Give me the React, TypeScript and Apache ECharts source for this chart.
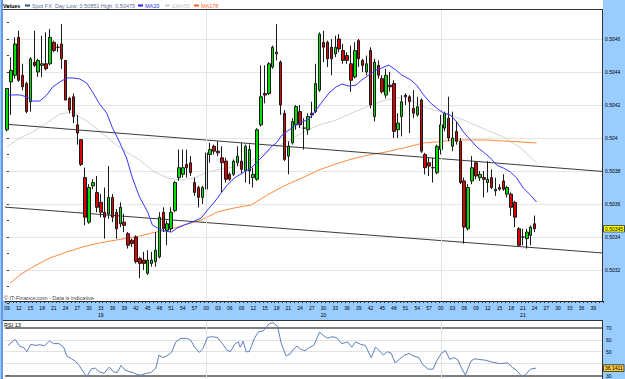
import { useEffect, useRef } from 'react';
import * as echarts from 'echarts';

// ---- tick labels / categories ----
const dayNames = ['19', '20', '21'];
const dayMinuteRanges = [[9, 59], [0, 59], [0, 41]];
const dayLabelMinute = [33, 30, 21];

// ---- candles: [open, close, low, high] ----
const candles = [
[0.50405,0.50430,0.50404,0.50430],[0.50434,0.50441,0.50414,0.50449],[0.50438,0.50457,0.50436,0.50461],[0.50461,0.50435,0.50434,0.50465],
[0.50438,0.50431,0.50429,0.50445],[0.50433,0.50416,0.50415,0.50434],[0.50422,0.50448,0.50416,0.50449],[0.50446,0.50444,0.50443,0.50465],
[0.50440,0.50447,0.50437,0.50448],[0.50444,0.50445,0.50437,0.50462],[0.50445,0.50442,0.50441,0.50464],[0.50445,0.50461,0.50444,0.50466],
[0.50458,0.50453,0.50452,0.50459],[0.50455,0.50455,0.50452,0.50457],[0.50457,0.50448,0.50442,0.50469],[0.50447,0.50423,0.50423,0.50447],
[0.50424,0.50417,0.50415,0.50425],[0.50425,0.50413,0.50409,0.50427],[0.50408,0.50403,0.50396,0.50414],[0.50399,0.50384,0.50383,0.50399],
[0.50376,0.50352,0.50347,0.50382],[0.50349,0.50370,0.50348,0.50372],[0.50371,0.50373,0.50369,0.50375],[0.50367,0.50358,0.50355,0.50377],
[0.50361,0.50355,0.50352,0.50366],[0.50355,0.50352,0.50339,0.50370],[0.50354,0.50364,0.50351,0.50383],[0.50364,0.50352,0.50349,0.50366],
[0.50355,0.50345,0.50339,0.50357],[0.50348,0.50358,0.50346,0.50361],[0.50349,0.50347,0.50343,0.50354],[0.50342,0.50335,0.50333,0.50343],
[0.50338,0.50336,0.50334,0.50339],[0.50340,0.50325,0.50324,0.50341],[0.50327,0.50324,0.50315,0.50328],[0.50326,0.50324,0.50320,0.50331],
[0.50318,0.50326,0.50317,0.50332],[0.50324,0.50326,0.50322,0.50331],[0.50325,0.50332,0.50322,0.50343],[0.50328,0.50352,0.50327,0.50355],
[0.50355,0.50345,0.50343,0.50358],[0.50344,0.50348,0.50335,0.50350],[0.50345,0.50355,0.50343,0.50358],[0.50356,0.50373,0.50355,0.50374],
[0.50376,0.50382,0.50374,0.50393],[0.50378,0.50382,0.50376,0.50393],[0.50384,0.50382,0.50376,0.50393],[0.50385,0.50379,0.50377,0.50389],
[0.50373,0.50367,0.50365,0.50376],[0.50370,0.50364,0.50358,0.50371],[0.50364,0.50370,0.50360,0.50371],[0.50369,0.50391,0.50368,0.50391],
[0.50390,0.50393,0.50385,0.50397],[0.50395,0.50392,0.50390,0.50396],[0.50392,0.50391,0.50389,0.50398],[0.50388,0.50385,0.50367,0.50395],
[0.50386,0.50375,0.50373,0.50388],[0.50378,0.50375,0.50374,0.50379],[0.50378,0.50386,0.50377,0.50387],[0.50385,0.50389,0.50383,0.50395],
[0.50386,0.50381,0.50378,0.50397],[0.50380,0.50395,0.50373,0.50396],[0.50380,0.50393,0.50372,0.50396],[0.50376,0.50378,0.50370,0.50382],
[0.50375,0.50405,0.50374,0.50406],[0.50408,0.50425,0.50407,0.50444],[0.50427,0.50426,0.50421,0.50444],[0.50427,0.50445,0.50426,0.50446],
[0.50443,0.50455,0.50442,0.50456],[0.50452,0.50451,0.50447,0.50469],[0.50446,0.50420,0.50414,0.50447],[0.50415,0.50387,0.50386,0.50417],
[0.50389,0.50395,0.50378,0.50398],[0.50397,0.50410,0.50396,0.50412],[0.50408,0.50419,0.50405,0.50420],[0.50416,0.50408,0.50406,0.50420],
[0.50406,0.50406,0.50393,0.50412],[0.50405,0.50413,0.50402,0.50415],[0.50415,0.50414,0.50412,0.50422],[0.50416,0.50433,0.50415,0.50445],
[0.50429,0.50463,0.50428,0.50464],[0.50458,0.50455,0.50446,0.50465],[0.50458,0.50448,0.50443,0.50459],[0.50455,0.50448,0.50438,0.50460],
[0.50451,0.50455,0.50449,0.50462],[0.50460,0.50454,0.50452,0.50463],[0.50453,0.50447,0.50445,0.50457],[0.50450,0.50447,0.50445,0.50452],
[0.50445,0.50435,0.50428,0.50456],[0.50437,0.50453,0.50436,0.50458],[0.50459,0.50448,0.50443,0.50460],[0.50447,0.50444,0.50440,0.50448],
[0.50440,0.50445,0.50438,0.50450],[0.50453,0.50420,0.50418,0.50455],[0.50413,0.50446,0.50410,0.50448],[0.50444,0.50438,0.50436,0.50447],
[0.50436,0.50428,0.50427,0.50438],[0.50426,0.50438,0.50424,0.50442],[0.50432,0.50431,0.50428,0.50440],[0.50433,0.50404,0.50400,0.50435],
[0.50405,0.50409,0.50400,0.50415],[0.50413,0.50422,0.50401,0.50426],[0.50426,0.50425,0.50420,0.50427],[0.50425,0.50422,0.50403,0.50426],
[0.50418,0.50415,0.50412,0.50429],[0.50414,0.50419,0.50413,0.50425],[0.50423,0.50392,0.50391,0.50424],[0.50390,0.50382,0.50378,0.50391],
[0.50385,0.50383,0.50377,0.50388],[0.50382,0.50382,0.50373,0.50388],[0.50379,0.50395,0.50378,0.50396],[0.50393,0.50408,0.50390,0.50414],
[0.50406,0.50415,0.50404,0.50416],[0.50412,0.50400,0.50398,0.50425],[0.50395,0.50400,0.50392,0.50416],[0.50404,0.50398,0.50396,0.50410],
[0.50398,0.50373,0.50372,0.50400],[0.50374,0.50346,0.50336,0.50376],[0.50345,0.50370,0.50344,0.50372],[0.50374,0.50382,0.50372,0.50389],
[0.50385,0.50377,0.50375,0.50386],[0.50376,0.50378,0.50374,0.50380],[0.50376,0.50375,0.50364,0.50380],[0.50373,0.50375,0.50367,0.50386],
[0.50376,0.50370,0.50369,0.50381],[0.50368,0.50369,0.50365,0.50376],[0.50370,0.50369,0.50368,0.50372],[0.50374,0.50369,0.50368,0.50378],
[0.50366,0.50370,0.50364,0.50371],[0.50366,0.50358,0.50353,0.50367],[0.50361,0.50352,0.50346,0.50362],[0.50345,0.50335,0.50334,0.50346],
[0.50340,0.50340,0.50335,0.50345],[0.50339,0.50343,0.50333,0.50345],[0.50341,0.50346,0.50335,0.50347],[0.50348,0.50345,0.50343,0.50353],
];

// ---- indicator lines: [bar index, value] ----
const ma20 = [
[0.3,0.504261],[3.3,0.504261],[5.1,0.504249],[6.6,0.504224],[8.4,0.504224],[10.2,0.504261],[11.7,0.504309],[13.5,0.504339],
[15.3,0.504364],[16.8,0.504364],[18.6,0.504358],[20.4,0.504333],[21.9,0.504279],[23.7,0.504206],[25.5,0.504152],[27.0,0.504061],
[28.8,0.503976],[30.6,0.503879],[32.1,0.503758],[33.9,0.503643],[36.0,0.503552],[37.2,0.503473],[38.5,0.503455],[40.3,0.503436],
[42.1,0.503430],[43.6,0.503455],[45.4,0.503473],[47.4,0.503491],[49.7,0.503515],[51.3,0.503564],[53.1,0.503612],[54.8,0.503667],
[56.4,0.503715],[58.2,0.503758],[60.7,0.503794],[62.5,0.503818],[64.0,0.503855],[65.8,0.503897],[67.6,0.503946],[68.9,0.503970],
[70.4,0.504018],[72.2,0.504049],[74.0,0.504079],[75.5,0.504097],[77.3,0.504115],[79.1,0.504170],[80.6,0.504218],[82.4,0.504273],
[84.2,0.504309],[85.7,0.504327],[87.5,0.504315],[89.3,0.504321],[90.8,0.504352],[92.6,0.504382],[94.4,0.504412],[95.9,0.504424],
[97.7,0.504442],[99.5,0.504412],[101.0,0.504382],[103.3,0.504352],[104.8,0.504321],[106.6,0.504261],[108.4,0.504212],[109.9,0.504182],
[111.7,0.504152],[113.5,0.504139],[115.1,0.504097],[116.8,0.504036],[118.6,0.503988],[120.2,0.503946],[121.9,0.503915],[123.7,0.503879],
[125.3,0.503836],[127.0,0.503818],[128.8,0.503794],[130.4,0.503758],[132.1,0.503697],[133.9,0.503655],[135.5,0.503612],
];
const ema55 = [
[0,0.503946],[3.3,0.504000],[6.6,0.504036],[10.2,0.504091],[13.5,0.504145],[15.3,0.504152],[16.8,0.504152],[20.4,0.504103],
[23.7,0.504042],[27.0,0.503976],[30.6,0.503915],[33.9,0.503867],[37.8,0.503794],[41.1,0.503758],[44.6,0.503746],[48.0,0.503758],
[51.3,0.503794],[54.8,0.503812],[58.2,0.503824],[61.5,0.503849],[65.1,0.503897],[68.4,0.503939],[72.2,0.503988],[76.0,0.504036],
[79.8,0.504079],[84.2,0.504109],[88.3,0.504152],[92.6,0.504194],[96.9,0.504230],[101.5,0.504249],[106.6,0.504188],[111.7,0.504152],
[116.8,0.504109],[122.7,0.504049],[127.0,0.504006],[131.4,0.503940],[135.5,0.503849],
];
const ma178 = [
[0.8,0.503121],[3.3,0.503170],[6.6,0.503218],[11.0,0.503273],[15.3,0.503309],[19.4,0.503340],[23.7,0.503364],[28.1,0.503382],
[33.9,0.503406],[37.0,0.503424],[41.1,0.503443],[45.4,0.503473],[49.7,0.503503],[53.8,0.503552],[58.2,0.503576],[62.5,0.503594],
[66.6,0.503655],[71.4,0.503715],[75.5,0.503758],[79.8,0.503806],[84.2,0.503843],[88.3,0.503873],[92.6,0.503897],[96.9,0.503915],
[101.5,0.503940],[106.6,0.503970],[110.0,0.503976],[114.3,0.503988],[118.6,0.503988],[122.7,0.503988],[127.0,0.503982],[131.4,0.503976],
[135.5,0.503970],
];
const upperTrend = [[-0.5, 0.504084], [152.5, 0.503797]];
const lowerTrend = [[-0.5, 0.503581], [152.5, 0.503303]];

const rsi13 = [
[0.25,55.3],[2.1,60.3],[3.3,54.4],[4.3,53.5],[5.1,50.0],[6.1,56.2],[7.4,55.3],[8.4,55.9],[9.6,55.0],[10.9,59.1],[11.9,56.8],
[13.3,56.8],[14.5,53.8],[15.3,46.5],[16.5,44.1],[17.5,42.1],[18.5,38.2],[20.4,28.8],[21.6,35.6],[22.6,36.2],[23.6,33.2],
[24.8,31.8],[26.2,37.1],[27.2,33.2],[28.2,32.4],[29.2,38.5],[30.2,34.7],[31.3,33.2],[32.3,32.4],[33.3,30.9],[34.3,30.3],
[35.6,31.8],[36.8,32.4],[38.1,36.2],[38.9,47.1],[39.9,45.0],[40.9,46.5],[42.1,49.4],[43.2,58.2],[44.5,61.2],[46.0,61.2],
[47.0,59.7],[48.0,53.8],[49.2,49.4],[50.1,52.4],[51.3,62.1],[52.6,62.6],[53.9,61.8],[55.1,56.8],[56.4,50.9],[57.2,50.3],
[58.4,56.8],[59.2,58.2],[59.7,53.8],[60.4,58.8],[61.2,50.0],[62.0,50.0],[63.3,61.2],[64.3,66.5],[65.6,67.6],[67.1,73.5],
[68.1,74.4],[69.2,71.5],[70.2,56.8],[71.4,46.5],[72.4,47.9],[73.4,52.4],[74.2,54.7],[75.3,51.8],[76.3,50.9],[77.5,53.8],
[78.5,55.3],[80.0,66.5],[81.0,63.5],[82.1,61.2],[83.1,62.6],[84.4,61.8],[85.6,56.8],[87.2,58.2],[88.2,53.8],[89.2,58.2],
[90.5,56.2],[91.7,55.3],[93.2,45.0],[94.3,53.8],[95.3,50.9],[96.3,47.1],[97.3,50.0],[98.3,48.8],[99.3,40.6],[100.4,43.5],
[101.7,47.1],[102.9,48.5],[103.9,46.5],[105.4,45.0],[106.4,39.1],[107.8,35.3],[109.0,35.3],[110.0,42.6],[111.2,48.8],
[112.2,50.9],[113.3,43.5],[114.3,45.0],[115.3,43.5],[116.3,36.2],[117.3,30.3],[118.7,42.1],[119.7,44.1],[120.7,43.5],
[122.4,42.9],[124.2,41.2],[126.1,40.0],[128.1,40.6],[129.3,36.8],[130.3,34.7],[131.6,29.7],[132.6,30.3],[133.9,35.3],[135.4,36.2],
];
const lastPrice = 0.50345;
const lastRsi = 36.1411;
const dayLow = '0.50851';
const dayHigh = '0.50475';

const FONT = 'Liberation Sans';

function buildOption() {
  const categories: string[] = [];
  const catDay: number[] = [];
  dayMinuteRanges.forEach(([a, b], d) => {
    for (let m = a; m <= b; m++) {
      categories.push(String(m).padStart(2, '0'));
      catDay.push(d);
    }
  });
  const nCat = categories.length;
  const firstDay2 = categories.findIndex((_, i) => catDay[i] === 1);
  const firstDay3 = categories.findIndex((_, i) => catDay[i] === 2);

  const bgRect = (x: number, y: number, w: number, h: number, fill: string) => ({
    type: 'rect', z: -100, silent: true, shape: { x, y, width: w, height: h }, style: { fill },
  });
  const gLine = (x1: number, y1: number, x2: number, y2: number, stroke: string, z = -50) => ({
    type: 'line', z, silent: true, shape: { x1, y1, x2, y2 }, style: { stroke, lineWidth: 1 },
  });
  const gText = (x: number, y: number, text: string, fill: string, bold = false) => ({
    type: 'text', z: 100, silent: true, x, y,
    style: { text, fill, fontSize: 5.5, fontFamily: FONT, fontWeight: bold ? 'bold' : 'normal', verticalAlign: 'middle' },
  });
  const legendIcon = (x: number, fill: string) => ({
    type: 'rect', z: 100, silent: true, shape: { x, y: 4.5, width: 5, height: 2 }, style: { fill },
  });

  const sepStyle = { color: '#e2e2e2', width: 1, type: 'solid' };
  const hiddenLine = { color: 'rgba(0,0,0,0)', width: 0 };
  const tagLabel = (text: string, bg: string) => ({
    show: true, position: 'end', distance: 1, formatter: () => text,
    backgroundColor: bg, borderColor: '#000', borderWidth: 0.6, padding: [1, 1, 0, 1],
    fontSize: 5, color: '#000', fontFamily: FONT,
  });

  return {
    animation: false,
    textStyle: { fontFamily: FONT },
    graphic: {
      elements: [
        bgRect(0, 0, 625, 400, '#99ccff'),
        bgRect(3, 0, 600, 9, '#ffffff'),
        bgRect(3, 9, 600, 292, '#ffffff'),
        bgRect(3, 320, 600, 80, '#ffffff'),
        gLine(2, 0, 2, 400, '#3366cc'),
        gLine(3, 9.5, 603, 9.5, '#333333', 50),
        gLine(602.5, 9, 602.5, 301, '#333333', 50),
        gLine(3, 320.5, 603, 320.5, '#333333', 50),
        gLine(602.5, 320, 602.5, 400, '#333333', 50),
        gText(3, 5.5, 'Values', '#000000', true),
        legendIcon(25, '#2d4f8f'),
        gText(32, 5.5, 'Spot FX', '#5c6f94'),
        gText(55, 5.5, 'Day Low: ' + dayLow + ' High: ' + dayHigh, '#5c6f94'),
        legendIcon(138, '#1f1fff'),
        gText(145, 5.5, 'MA20', '#1f1fff'),
        legendIcon(165, '#cfcfcf'),
        gText(172, 5.5, 'EMA55', '#c8c8c8'),
        legendIcon(194, '#ff5a1f'),
        gText(201, 5.5, 'MA178', '#ff6a2a'),
        gText(4, 297.5, '© IT-Finance.com - Data is indicative', '#444444'),
        gText(4, 324.5, 'RSI 13', '#000000'),
      ],
    },
    grid: [
      { left: 5, right: 22, top: 6, height: 297 },
      { left: 5, right: 22, top: 316, height: 71.4 },
    ],
    xAxis: [
      {
        type: 'category', gridIndex: 0, data: categories, boundaryGap: true, offset: -2,
        axisLine: { show: true, lineStyle: { color: '#222', width: 1 } },
        axisTick: { show: true, interval: 0, length: 2, lineStyle: { color: '#333' } },
        axisLabel: {
          fontSize: 5, color: '#000', margin: 3, lineHeight: 7, fontFamily: FONT,
          interval: (_i: number, v: string) => Number(v) % 3 === 0,
          formatter: (v: string, i: number) => {
            const d = catDay[i];
            return Number(v) === dayLabelMinute[d] ? v + '\n' + dayNames[d] : v;
          },
        },
        splitLine: { show: false },
      },
      { type: 'value', gridIndex: 0, min: -0.5, max: nCat - 0.5, show: false },
      { type: 'value', gridIndex: 1, min: -0.5, max: nCat - 0.5, show: false },
    ],
    yAxis: [
      {
        type: 'value', gridIndex: 0, position: 'right', min: 0.503, max: 0.5048, interval: 0.0002,
        axisLine: { show: false },
        axisTick: { show: true, length: 2, lineStyle: { color: '#333' } },
        minorTick: { show: true, splitNumber: 2, length: 2, lineStyle: { color: '#333' } },
        axisLabel: {
          fontSize: 5, color: '#000', margin: 2, fontFamily: FONT, showMinLabel: false, showMaxLabel: false,
          formatter: (v: number) => String(parseFloat(v.toFixed(4))),
        },
        splitLine: { show: true, showMinLine: false, showMaxLine: false, lineStyle: { color: '#e6e6e6', width: 1 } },
      },
      {
        type: 'value', gridIndex: 1, position: 'right', min: 20, max: 80, interval: 10,
        axisLine: { show: false },
        axisTick: { show: true, length: 2, lineStyle: { color: '#333' } },
        axisLabel: {
          fontSize: 5, color: '#000', margin: 3, fontFamily: FONT, showMinLabel: false, showMaxLabel: false,
          // the 40 label sits under the current-RSI tag, as in the original
          formatter: (v: number) => (v === 40 ? '' : String(v)),
        },
        splitLine: { show: false },
      },
    ],
    series: [
      {
        name: 'separators', type: 'line', xAxisIndex: 1, yAxisIndex: 0, data: [], z: 1,
        markLine: {
          silent: true, symbol: 'none', label: { show: false }, lineStyle: sepStyle,
          data: [
            [{ coord: [firstDay2, 0.504782] }, { coord: [firstDay2, 0.503012] }],
            [{ coord: [firstDay3, 0.504782] }, { coord: [firstDay3, 0.503012] }],
          ],
        },
      },
      {
        name: 'EMA55', type: 'line', xAxisIndex: 1, yAxisIndex: 0, data: ema55, showSymbol: false, z: 2,
        lineStyle: { color: '#d2d2d2', width: 1 },
      },
      {
        name: 'MA178', type: 'line', xAxisIndex: 1, yAxisIndex: 0, data: ma178, showSymbol: false, z: 2,
        lineStyle: { color: '#ff8a3d', width: 1 },
      },
      {
        name: 'Upper trend', type: 'line', xAxisIndex: 1, yAxisIndex: 0, data: upperTrend, showSymbol: false, z: 3,
        lineStyle: { color: '#3a3a3a', width: 1 },
      },
      {
        name: 'Lower trend', type: 'line', xAxisIndex: 1, yAxisIndex: 0, data: lowerTrend, showSymbol: false, z: 3,
        lineStyle: { color: '#3a3a3a', width: 1 },
      },
      {
        name: 'Spot FX', type: 'candlestick', xAxisIndex: 0, yAxisIndex: 0, data: candles, barWidth: 3, z: 4,
        itemStyle: { color: '#00dd00', color0: '#dd0000', borderColor: '#1a1a1a', borderColor0: '#1a1a1a', borderWidth: 1 },
      },
      {
        name: 'MA20', type: 'line', xAxisIndex: 1, yAxisIndex: 0, data: ma20, showSymbol: false, z: 5, clip: false,
        lineStyle: { color: '#3535ff', width: 1 },
        markLine: {
          silent: true, symbol: 'none', z: 20, precision: 6,
          data: [{ yAxis: lastPrice, lineStyle: hiddenLine, label: tagLabel(String(lastPrice), '#ffff00') }],
        },
      },
      {
        name: 'RSI 13', type: 'line', xAxisIndex: 2, yAxisIndex: 1, data: rsi13, showSymbol: false, z: 5, clip: false,
        lineStyle: { color: '#5b7fc0', width: 1 },
        markLine: {
          silent: true, symbol: 'none', label: { show: false }, z: 4,
          data: [
            { yAxis: 60, lineStyle: { color: '#e2e2e2', width: 1, type: 'solid' } },
            { yAxis: 50, lineStyle: { color: '#e2e2e2', width: 1, type: 'solid' } },
            { yAxis: 40, lineStyle: { color: '#e2e2e2', width: 1, type: 'solid' } },
            { yAxis: 70, lineStyle: { color: '#555555', width: 1.5, type: 'solid' } },
            { yAxis: 30, lineStyle: { color: '#555555', width: 1.5, type: 'solid' } },
            [{ coord: [firstDay2, 76.6], lineStyle: sepStyle }, { coord: [firstDay2, 20] }],
            [{ coord: [firstDay3, 76.6], lineStyle: sepStyle }, { coord: [firstDay3, 20] }],
          ],
        },
      },
      {
        name: 'lastRsiTag', type: 'line', xAxisIndex: 2, yAxisIndex: 1, data: [], z: 20, clip: false,
        markLine: {
          silent: true, symbol: 'none', z: 20, precision: 4,
          data: [{ yAxis: lastRsi, lineStyle: hiddenLine, label: tagLabel(String(lastRsi), '#ffcc33') }],
        },
      },
    ],
  };
}

export default function App() {
  const ref = useRef<HTMLDivElement>(null);
  useEffect(() => {
    if (!ref.current) return;
    const chart = echarts.init(ref.current, null, { renderer: 'svg' });
    chart.setOption(buildOption() as any);
    return () => chart.dispose();
  }, []);
  return (
    <div
      ref={ref}
      style={{ position: 'fixed', left: 0, top: 0, width: 625, height: 400, background: '#ffffff' }}
    />
  );
}
